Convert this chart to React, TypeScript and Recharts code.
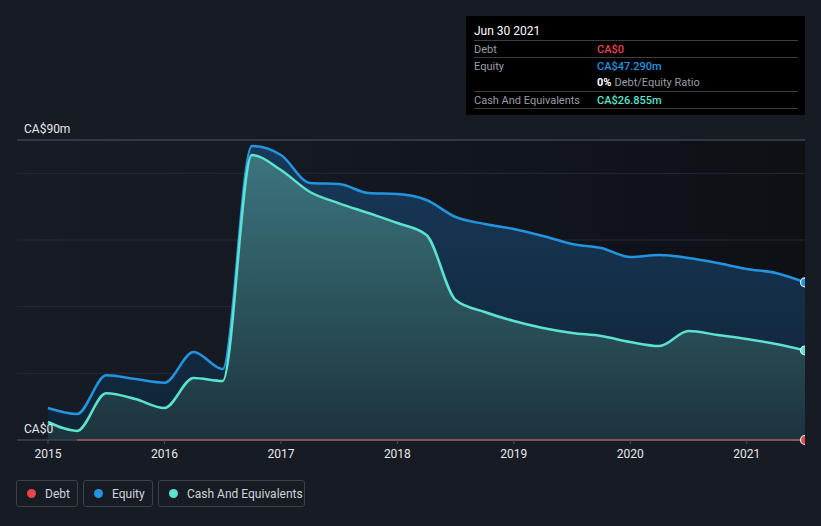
import React from 'react';
import {
  ComposedChart,
  Area,
  Line,
  XAxis,
  YAxis,
  CartesianGrid,
  ReferenceLine,
} from 'recharts';

// quarter-end dates as decimal years
const quarters = [
  2015.0, 2015.25, 2015.5, 2015.75, 2016.0, 2016.25, 2016.5, 2016.75, 2017.0, 2017.25,
  2017.5, 2017.75, 2018.0, 2018.25, 2018.5, 2018.75, 2019.0, 2019.25, 2019.5, 2019.75,
  2020.0, 2020.25, 2020.5, 2020.75, 2021.0, 2021.25, 2021.5,
];

// CA$ millions
const equity = [
  9.6, 7.8, 19.4, 18.3, 17.2, 26.4, 21.3, 88.2, 85.5, 77.1,
  76.8, 74.1, 73.8, 72.0, 66.9, 64.8, 63.3, 61.2, 58.8, 57.6,
  54.9, 55.5, 54.6, 53.1, 51.3, 50.1, 47.29,
];

const cash = [
  5.4, 2.7, 14.0, 12.3, 9.6, 18.6, 17.7, 85.5, 81.0, 74.4,
  71.0, 68.1, 65.1, 61.5, 42.0, 38.4, 35.7, 33.6, 32.1, 31.2,
  29.4, 28.2, 32.7, 31.5, 30.3, 28.8, 26.855,
];

const debt = [
  null, 0, 0, 0, 0, 0, 0, 0, 0, 0,
  0, 0, 0, 0, 0, 0, 0, 0, 0, 0,
  0, 0, 0, 0, 0, 0, 0,
];

const yearTicks = [2015, 2016, 2017, 2018, 2019, 2020, 2021];
const valueTicks = [0, 20, 40, 60, 80, 90];

const data = quarters.map((t, i) => ({
  t,
  equity: equity[i],
  cash: cash[i],
  debt: debt[i],
}));

const BG = '#161b24';
const FONT = 'Roboto, "Open Sans", sans-serif';
const EQUITY_COLOR = '#2394df';
const CASH_COLOR = '#5de2cf';
const DEBT_COLOR = '#e8464c';

const lastDot = (color: string) => (props: any) => {
  const { cx, cy, index } = props;
  if (index !== quarters.length - 1) return <g key={`d-${index}`} />;
  return (
    <circle key={`d-${index}`} cx={cx} cy={cy} r={4.5} fill={color} stroke="#e8f4ff" strokeWidth={1.2} />
  );
};

// value label drawn just above the grid line, inside the plot
const axisLabel = (text: string) => (props: any) => {
  const { viewBox } = props;
  return (
    <text x={viewBox.x + 7} y={viewBox.y - 7} fill="#e6e8eb" fontSize={12} fontFamily={FONT} textAnchor="start">
      {text}
    </text>
  );
};

function InfoBox() {
  const row: React.CSSProperties = {
    display: 'flex',
    height: 16,
    alignItems: 'center',
    borderTop: '1px solid #3a3d42',
    fontSize: 11,
  };
  const label: React.CSSProperties = { width: 123, color: '#9a9da3' };
  return (
    <div
      style={{
        position: 'absolute',
        left: 466,
        top: 16,
        width: 339,
        height: 99,
        background: '#000000',
        fontFamily: FONT,
        boxSizing: 'border-box',
        padding: '7px 7px 0 8px',
      }}
    >
      <div style={{ color: '#ffffff', fontSize: 12, height: 17, lineHeight: '17px' }}>Jun 30 2021</div>
      <div style={row}>
        <span style={label}>Debt</span>
        <span style={{ color: '#e8464c', fontWeight: 500 }}>CA$0</span>
      </div>
      <div style={row}>
        <span style={label}>Equity</span>
        <span style={{ color: '#2394df', fontWeight: 500 }}>CA$47.290m</span>
      </div>
      <div style={{ ...row, borderTop: 'none', height: 17 }}>
        <span style={label} />
        <span style={{ color: '#ffffff', fontWeight: 700 }}>0%</span>
        <span style={{ color: '#9a9da3', marginLeft: 3 }}>Debt/Equity Ratio</span>
      </div>
      <div style={row}>
        <span style={label}>Cash And Equivalents</span>
        <span style={{ color: '#5de2cf', fontWeight: 500 }}>CA$26.855m</span>
      </div>
      <div style={{ borderTop: '1px solid #3a3d42' }} />
    </div>
  );
}

function Legend() {
  const items = [
    { name: 'Debt', color: DEBT_COLOR, width: 62 },
    { name: 'Equity', color: EQUITY_COLOR, width: 70 },
    { name: 'Cash And Equivalents', color: CASH_COLOR, width: 147 },
  ];
  return (
    <div style={{ position: 'absolute', left: 16, top: 480, display: 'flex', gap: 5, fontFamily: FONT }}>
      {items.map((it) => (
        <div
          key={it.name}
          style={{
            width: it.width,
            height: 27,
            boxSizing: 'border-box',
            border: '1px solid #3c414a',
            borderRadius: 3,
            display: 'flex',
            alignItems: 'center',
            paddingLeft: 10,
            color: '#d0d3d8',
            fontSize: 12,
          }}
        >
          <span
            style={{
              width: 9,
              height: 9,
              borderRadius: '50%',
              background: it.color,
              display: 'inline-block',
              marginRight: 9,
            }}
          />
          {it.name}
        </div>
      ))}
    </div>
  );
}

export default function App() {
  return (
    <div
      style={{
        position: 'fixed',
        left: 0,
        top: 0,
        width: 821,
        height: 526,
        background: BG,
        overflow: 'hidden',
      }}
    >
      <ComposedChart
        width={821}
        height={526}
        data={data}
        margin={{ top: 140, right: 16, bottom: 56, left: 17 }}
      >
        <defs>
          <linearGradient id="plotBg" x1="0" y1="0" x2="1" y2="0">
            <stop offset="0%" stopColor="#161b24" />
            <stop offset="35%" stopColor="#141922" />
            <stop offset="100%" stopColor="#0d1015" />
          </linearGradient>
          <linearGradient id="equityFill" x1="0" y1="0" x2="0" y2="1">
            <stop offset="0%" stopColor="#18395a" />
            <stop offset="100%" stopColor="#0f2335" />
          </linearGradient>
          <linearGradient id="cashFill" x1="0" y1="0" x2="0" y2="1">
            <stop offset="0%" stopColor="#3c757e" />
            <stop offset="100%" stopColor="#1c333d" />
          </linearGradient>
        </defs>
        <CartesianGrid vertical={false} stroke="#252b35" fill="url(#plotBg)" />
        <XAxis
          dataKey="t"
          type="number"
          domain={[2014.734, 2021.5]}
          ticks={yearTicks}
          allowDataOverflow
          tick={{ fill: '#e6e8eb', fontSize: 12, fontFamily: FONT }}
          tickLine={{ stroke: '#4a4f58' }}
          tickSize={4}
          tickMargin={5}
          axisLine={{ stroke: '#4a4f58' }}
        />
        <YAxis type="number" domain={[0, 90]} ticks={valueTicks} hide />
        <ReferenceLine y={90} stroke="#4a4f58" label={axisLabel('CA$90m')} />
        <ReferenceLine y={0} stroke="none" label={axisLabel('CA$0')} />
        <Area
          type="monotone"
          dataKey="equity"
          stroke={EQUITY_COLOR}
          strokeWidth={2.5}
          fill="url(#equityFill)"
          fillOpacity={1}
          dot={lastDot(EQUITY_COLOR)}
          activeDot={false}
          isAnimationActive={false}
        />
        <Area
          type="monotone"
          dataKey="cash"
          stroke={CASH_COLOR}
          strokeWidth={2.5}
          fill="url(#cashFill)"
          fillOpacity={1}
          dot={lastDot(CASH_COLOR)}
          activeDot={false}
          isAnimationActive={false}
        />
        <Line
          type="linear"
          dataKey="debt"
          stroke="#c4585d"
          strokeWidth={2}
          dot={lastDot(DEBT_COLOR)}
          activeDot={false}
          connectNulls={false}
          isAnimationActive={false}
        />
      </ComposedChart>
      <InfoBox />
      <Legend />
    </div>
  );
}
